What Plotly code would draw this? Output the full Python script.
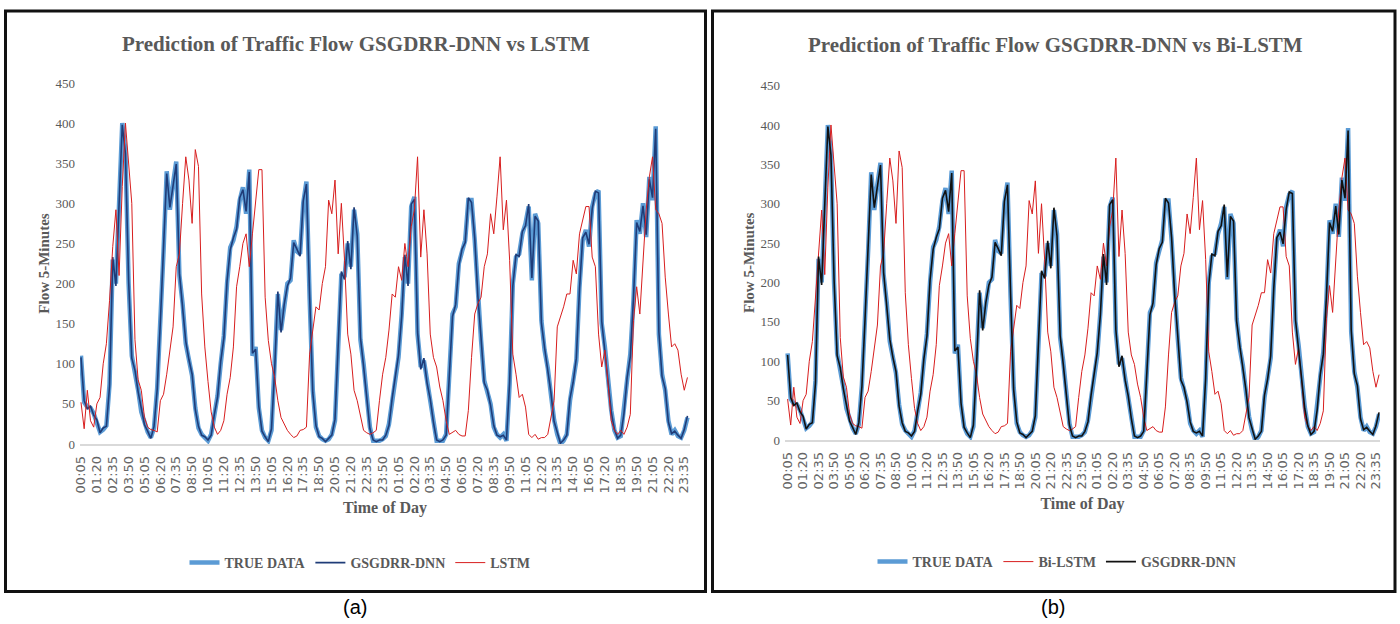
import plotly.graph_objects as go

# ---------------- data (15-minute steps) ----------------
TICK_LABELS = ["00:05", "01:20", "02:35", "03:50", "05:05", "06:20", "07:35", "08:50",
               "10:05", "11:20", "12:35", "13:50", "15:05", "16:20", "17:35", "18:50",
               "20:05", "21:20", "22:35", "23:50", "01:05", "02:20", "03:35", "04:50",
               "06:05", "07:20", "08:35", "09:50", "11:05", "12:20", "13:35", "14:50",
               "16:05", "17:20", "18:35", "19:50", "21:05", "22:20", "23:35"]

TRUE_DATA = [110, 52, 46, 45, 38, 28, 15, 18, 23, 75,
             230, 200, 296, 400, 365, 200, 110, 90, 67, 40,
             25, 15, 8, 20, 70, 150, 240, 340, 292, 325,
             352, 210, 175, 125, 108, 85, 45, 20, 12, 8,
             4, 12, 35, 60, 100, 135, 200, 245, 254, 271,
             304, 320, 287, 342, 110, 121, 45, 17, 8, 4,
             17, 96, 187, 142, 171, 200, 204, 254, 240, 237,
             300, 327, 183, 67, 21, 10, 6, 4, 6, 12,
             29, 130, 212, 208, 250, 221, 292, 262, 130, 100,
             54, 21, 4, 4, 4, 6, 10, 25, 54, 87,
             108, 162, 233, 200, 296, 308, 137, 96, 104, 79,
             54, 29, 4, 4, 4, 12, 80, 162, 171, 225,
             240, 254, 304, 304, 254, 187, 129, 79, 65, 50,
             21, 12, 8, 12, 4, 75, 200, 233, 237, 262,
             275, 296, 204, 287, 275, 154, 117, 95, 62, 30,
             12, 0, 4, 12, 54, 80, 104, 196, 254, 267,
             246, 296, 312, 316, 150, 121, 75, 42, 17, 8,
             10, 40, 80, 112, 179, 279, 262, 300, 258, 333,
             304, 396, 137, 87, 67, 29, 12, 17, 10, 8,
             17, 33]

GSGDRR_DNN = [108, 54, 44, 47, 36, 30, 14, 20, 22, 72,
              233, 197, 299, 398, 362, 204, 107, 92, 65, 42,
              24, 16, 7, 22, 68, 153, 237, 337, 295, 322,
              349, 213, 172, 128, 105, 87, 43, 22, 11, 9,
              5, 11, 37, 58, 103, 132, 203, 242, 257, 268,
              307, 317, 290, 339, 113, 118, 47, 16, 9, 3,
              19, 93, 190, 139, 174, 197, 207, 251, 243, 234,
              303, 324, 186, 64, 23, 9, 7, 3, 7, 11,
              31, 127, 215, 205, 253, 218, 295, 259, 133, 97,
              56, 19, 5, 3, 5, 5, 11, 23, 57, 84,
              111, 159, 236, 197, 299, 305, 140, 93, 107, 76,
              56, 27, 5, 3, 5, 11, 83, 159, 174, 222,
              243, 251, 307, 301, 257, 184, 132, 76, 67, 48,
              23, 11, 9, 11, 5, 78, 197, 236, 234, 265,
              272, 299, 207, 284, 278, 151, 120, 92, 64, 28,
              13, 1, 5, 11, 57, 77, 107, 193, 257, 264,
              249, 293, 315, 313, 153, 118, 78, 40, 18, 7,
              11, 38, 83, 109, 182, 276, 265, 297, 261, 330,
              307, 393, 140, 84, 69, 27, 13, 16, 11, 7,
              18, 35]

LSTM = [52, 19, 67, 29, 21, 50, 58, 100, 125, 179,
        246, 292, 210, 321, 400, 346, 300, 130, 80, 67,
        33, 21, 18, 17, 15, 54, 62, 87, 117, 146,
        221, 237, 300, 358, 329, 275, 367, 346, 187, 121,
        78, 40, 21, 12, 17, 29, 62, 83, 121, 196,
        221, 250, 262, 221, 262, 304, 342, 342, 183, 129,
        100, 83, 54, 33, 25, 17, 12, 8, 10, 17,
        18, 21, 112, 142, 171, 167, 200, 221, 304, 287,
        329, 237, 300, 229, 137, 112, 67, 54, 33, 17,
        14, 12, 14, 17, 54, 87, 108, 142, 187, 183,
        221, 204, 250, 221, 271, 292, 358, 233, 292, 237,
        137, 108, 96, 71, 54, 29, 12, 15, 17, 12,
        10, 10, 42, 108, 162, 175, 183, 221, 237, 287,
        262, 308, 358, 267, 304, 229, 112, 87, 58, 62,
        46, 12, 8, 12, 6, 8, 8, 12, 33, 54,
        146, 158, 171, 187, 187, 229, 212, 262, 279, 296,
        296, 233, 221, 137, 96, 117, 75, 29, 17, 12,
        17, 12, 21, 37, 154, 196, 162, 229, 292, 333,
        358, 292, 287, 275, 208, 162, 121, 125, 117, 87,
        67, 83]

# Bi-LSTM curve in panel (b) is drawn identically to the LSTM curve of panel (a)
BI_LSTM = list(LSTM)

X = list(range(len(TRUE_DATA)))
TICK_VALS = [5 * k for k in range(len(TICK_LABELS))]

W, H = 1400, 624
def px(x):
    return x / W
def py(y):
    return 1 - y / H

GRAY = "#595959"
SERIF = "Liberation Serif"
BLUE = "#5B9BD5"
NAVY = "#1F3C78"
RED = "#D81E1E"
BLACK = "#111111"

fig = go.Figure()

# ---- panel (a) ----
fig.add_trace(go.Scatter(x=X, y=TRUE_DATA, mode="lines", name="TRUE DATA",
                         line=dict(color=BLUE, width=4.5), xaxis="x", yaxis="y",
                         legend="legend", legendrank=1))
fig.add_trace(go.Scatter(x=X, y=GSGDRR_DNN, mode="lines", name="GSGDRR-DNN",
                         line=dict(color=NAVY, width=1.6), xaxis="x", yaxis="y",
                         legend="legend", legendrank=2))
fig.add_trace(go.Scatter(x=X, y=LSTM, mode="lines", name="LSTM",
                         line=dict(color=RED, width=1), xaxis="x", yaxis="y",
                         legend="legend", legendrank=3))

# ---- panel (b) ----
fig.add_trace(go.Scatter(x=X, y=TRUE_DATA, mode="lines", name="TRUE DATA",
                         line=dict(color=BLUE, width=4.5), xaxis="x2", yaxis="y2",
                         legend="legend2", legendrank=1))
fig.add_trace(go.Scatter(x=X, y=BI_LSTM, mode="lines", name="Bi-LSTM",
                         line=dict(color=RED, width=1), xaxis="x2", yaxis="y2",
                         legend="legend2", legendrank=2))
fig.add_trace(go.Scatter(x=X, y=GSGDRR_DNN, mode="lines", name="GSGDRR-DNN",
                         line=dict(color=BLACK, width=1.6), xaxis="x2", yaxis="y2",
                         legend="legend2", legendrank=3))

xaxis_common = dict(
    tickmode="array", tickvals=TICK_VALS, ticktext=TICK_LABELS, tickangle=-90,
    tickfont=dict(family="DejaVu Sans", size=13, color="#666666"),
    showgrid=False, zeroline=False, showline=True, linecolor="#D9D9D9", linewidth=1.5,
    ticks="", ticklabelstandoff=5, automargin=False,
    title=dict(text="Time of Day", font=dict(family=SERIF, size=16, color=GRAY, weight="bold"),
               standoff=9),
)
yaxis_common = dict(
    range=[0, 450], tickmode="array", tickvals=list(range(0, 451, 50)),
    tickfont=dict(family=SERIF, size=13, color=GRAY),
    showgrid=False, zeroline=False, showline=False, ticks="", ticklabelstandoff=4,
    automargin=False,
    title=dict(text="Flow 5-Minutes", font=dict(family=SERIF, size=15, color=GRAY, weight="bold"),
               standoff=2),
)

fig.update_layout(
    template="none",
    width=W, height=H, autosize=False,
    margin=dict(l=0, r=0, t=0, b=0, pad=0, autoexpand=False),
    paper_bgcolor="white", plot_bgcolor="white",
    xaxis=dict(domain=[px(80), px(690)], range=[-0.31, 191.8], anchor="y", **xaxis_common),
    yaxis=dict(domain=[py(444), py(83)], anchor="x", **yaxis_common),
    xaxis2=dict(domain=[px(785), px(1380)], range=[-0.84, 191.3], anchor="y2", **xaxis_common),
    yaxis2=dict(domain=[py(440), py(85.6)], anchor="x2", **yaxis_common),
    legend=dict(orientation="h", x=px(360), xanchor="center", y=py(563), yanchor="middle",
                font=dict(family=SERIF, size=14, color=GRAY, weight="bold"),
                bgcolor="rgba(0,0,0,0)", traceorder="normal"),
    legend2=dict(orientation="h", x=px(1057), xanchor="center", y=py(562), yanchor="middle",
                 font=dict(family=SERIF, size=14, color=GRAY, weight="bold"),
                 bgcolor="rgba(0,0,0,0)", traceorder="normal"),
    showlegend=True,
)

# panel borders
fig.add_shape(type="rect", xref="paper", yref="paper",
              x0=px(5.5), x1=px(705.5), y0=py(591.5), y1=py(11),
              line=dict(color="#111111", width=3), fillcolor="rgba(0,0,0,0)", layer="above")
fig.add_shape(type="rect", xref="paper", yref="paper",
              x0=px(712.5), x1=px(1395), y0=py(591.5), y1=py(11),
              line=dict(color="#111111", width=3), fillcolor="rgba(0,0,0,0)", layer="above")

# titles and panel letters
fig.add_annotation(text="<b>Prediction of Traffic Flow GSGDRR-DNN vs LSTM</b>",
                   xref="paper", yref="paper", x=px(356), y=py(44), showarrow=False,
                   xanchor="center", yanchor="middle",
                   font=dict(family=SERIF, size=21, color=GRAY))
fig.add_annotation(text="<b>Prediction of Traffic Flow GSGDRR-DNN vs Bi-LSTM</b>",
                   xref="paper", yref="paper", x=px(1055), y=py(45), showarrow=False,
                   xanchor="center", yanchor="middle",
                   font=dict(family=SERIF, size=21, color=GRAY))
fig.add_annotation(text="(a)", xref="paper", yref="paper", x=px(355), y=py(607),
                   showarrow=False, xanchor="center", yanchor="middle",
                   font=dict(family="Liberation Sans", size=20, color="#000000"))
fig.add_annotation(text="(b)", xref="paper", yref="paper", x=px(1053), y=py(607),
                   showarrow=False, xanchor="center", yanchor="middle",
                   font=dict(family="Liberation Sans", size=20, color="#000000"))

fig.write_html("out.html",
               config={"displayModeBar": False},
               post_script="document.body.style.margin='0';document.body.style.overflow='hidden';")
